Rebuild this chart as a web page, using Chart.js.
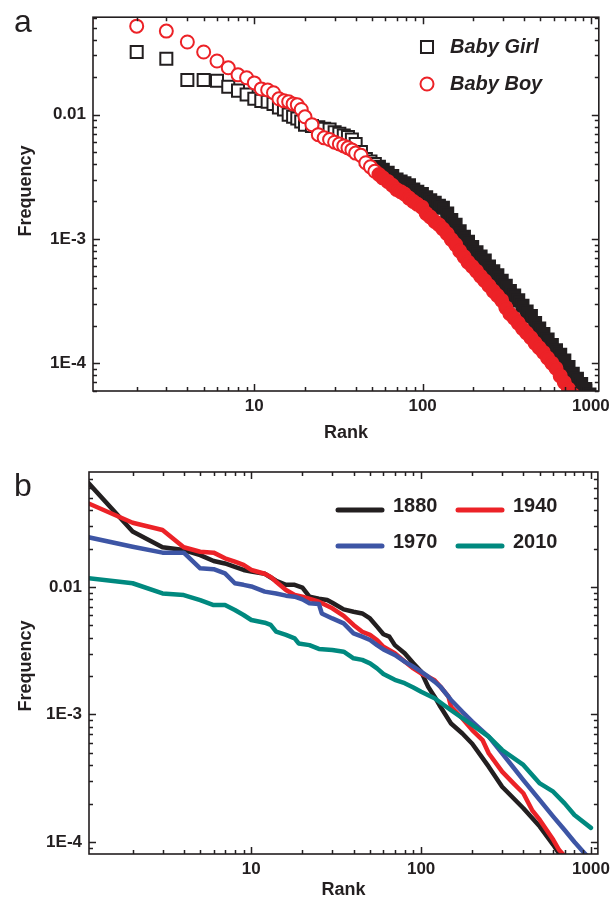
<!DOCTYPE html>
<html>
<head>
<meta charset="utf-8">
<script src="https://cdn.jsdelivr.net/npm/chart.js@4.4.1/dist/chart.umd.min.js"></script>
<style>
  html, body { margin: 0; padding: 0; background: #fff; overflow: hidden; }
  body { width: 615px; height: 897px; position: relative; }
  canvas { position: absolute; left: 0; }
  #chartA { top: 0; }
  #chartB { top: 450px; }
</style>
</head>
<body>
<canvas id="chartA" width="615" height="450"></canvas>
<canvas id="chartB" width="615" height="460"></canvas>
<script>
// ---- panel a: baby names, frequency vs rank ----
const rankA = [1, 2, 3, 4, 5, 6, 7, 8, 9, 10, 11, 12, 13, 14, 15, 16, 17, 18, 19, 20,
    22, 24, 26, 28, 30, 32, 34, 36, 38, 40, 43, 46, 49, 52, 55, 58, 62, 66, 70, 74, 78,
    83, 88, 93, 99, 105, 111, 118, 125, 132, 140, 148, 157, 166, 176, 186, 197, 209, 221,
    234, 248, 263, 278, 295, 312, 330, 350, 370, 392, 415, 440, 466, 493, 522, 553, 586,
    620, 657, 695, 736, 780, 826, 875, 926, 980];
const girlFreq = [0.07, 0.0319, 0.0281, 0.019, 0.019, 0.0187, 0.01675, 0.0156, 0.0145, 0.0134,
    0.0129, 0.0127, 0.0122, 0.0114, 0.011, 0.01, 0.0096, 0.0093, 0.0088, 0.0083,
    0.0081, 0.0079, 0.0077, 0.0076, 0.0072, 0.007, 0.0068, 0.0066, 0.0063, 0.0058, 0.005,
    0.0044, 0.0042, 0.004, 0.0038, 0.0036, 0.0034, 0.0032, 0.003, 0.0029, 0.0028,
    0.0027, 0.0025, 0.0024, 0.0023, 0.00216, 0.00205, 0.00195, 0.00185, 0.00178, 0.0016,
    0.00142, 0.0013, 0.00115, 0.00104, 0.00095, 0.00086, 0.00078, 0.00072,
    0.00067, 0.0006, 0.00055, 0.00051, 0.00046, 0.00042, 0.00038, 0.00035, 0.00032, 0.00029,
    0.00026, 0.00024, 0.00021, 0.00019, 0.000172, 0.000155, 0.00014,
    0.000127, 0.000117, 0.000105, 0.000093, 0.000082, 0.000075, 0.000068, 0.000062, 0.000056];
const boyFreq = [0.055, 0.0515, 0.047, 0.0384, 0.0319, 0.027, 0.0238, 0.0209, 0.0198, 0.018,
    0.0161, 0.0158, 0.015, 0.0134, 0.0129, 0.0127, 0.0122, 0.012, 0.011, 0.0096,
    0.0083, 0.0069, 0.0065, 0.0063, 0.006, 0.0058, 0.0056, 0.0054, 0.0052, 0.0049, 0.0047,
    0.0041, 0.0038, 0.0035, 0.0033, 0.0031, 0.0029, 0.0027, 0.0025, 0.0024, 0.0023,
    0.00213, 0.002, 0.0019, 0.0018, 0.0016, 0.0015, 0.00138, 0.0013, 0.0012, 0.0011,
    0.00099, 0.0009, 0.0008, 0.00072, 0.00065, 0.0006, 0.00055, 0.0005,
    0.00046, 0.00042, 0.00038, 0.00035, 0.00032, 0.00028, 0.00025, 0.00023, 0.00021, 0.00019,
    0.000175, 0.00016, 0.000145, 0.000133, 0.000122, 0.00011, 0.0001,
    0.000091, 0.000079, 0.00007, 0.000062, 0.000056, 0.00005, 0.000045, 0.00004, 0.000036];
const seriesA = ['Baby Girl', 'Baby Boy'];

// ---- panel b: four years ----
const rank1880 = [1, 2, 3, 4, 5, 6, 7, 8, 9, 10, 12, 14, 16, 18, 20, 22, 25, 28, 30, 35, 40, 45,
    50, 55, 60, 65, 70, 80, 90, 100, 110, 120, 130, 150, 175, 200, 250, 300, 400, 500, 600, 650, 700];
const freq1880 = [0.075, 0.0272, 0.0205, 0.0195, 0.0178, 0.016, 0.0153, 0.0144, 0.0136, 0.0132,
    0.0127, 0.0112, 0.0104, 0.0104, 0.0099, 0.0084, 0.0081, 0.0079, 0.00753, 0.00668, 0.0064,
    0.0062, 0.00567, 0.00489, 0.00426, 0.00408, 0.0035, 0.00302, 0.00252, 0.00217, 0.00165,
    0.00138, 0.00115, 0.00085, 0.00071, 0.00059, 0.00039, 0.000271, 0.000184, 0.000132,
    0.000095, 0.000081, 0.00007];
const rank1940 = [1, 2, 3, 4, 5, 6, 7, 8, 9, 10, 12, 13, 14, 16, 18, 20, 25, 30, 35, 40, 45, 50,
    55, 60, 70, 80, 90, 100, 110, 120, 130, 145, 150, 175, 200, 230, 250, 300, 350, 400, 450,
    500, 600, 650, 750];
const freq1940 = [0.0478, 0.0319, 0.028, 0.0205, 0.0189, 0.0186, 0.0168, 0.0158, 0.0149, 0.0136,
    0.0127, 0.012, 0.011, 0.00947, 0.00865, 0.0084, 0.00767, 0.0068, 0.00593, 0.00504, 0.00446,
    0.00421, 0.00384, 0.0034, 0.00302, 0.0026, 0.0023, 0.0021, 0.00198, 0.00186, 0.00165,
    0.00138, 0.00115, 0.00093, 0.000755, 0.00063, 0.000497, 0.000356, 0.000288, 0.000241,
    0.000178, 0.000149, 0.000104, 0.0000865, 0.00007];
const rank1970 = [1, 2, 3, 4, 5, 6, 7, 8, 9, 10, 12, 14, 16, 18, 20, 22, 25, 26, 30, 35, 40, 45,
    50, 55, 60, 70, 80, 90, 100, 110, 120, 130, 150, 175, 200, 250, 300, 400, 500, 600, 700,
    800, 900, 1000];
const freq1970 = [0.0252, 0.0207, 0.0186, 0.0186, 0.014, 0.0138, 0.0128, 0.0107, 0.0104, 0.0101,
    0.0092, 0.0089, 0.00855, 0.0084, 0.008, 0.00745, 0.00736, 0.0062, 0.00567, 0.00519, 0.00433,
    0.00408, 0.00384, 0.0035, 0.00324, 0.00293, 0.0026, 0.00237, 0.00217, 0.00198, 0.00181,
    0.00165, 0.0013, 0.00105, 0.00088, 0.00067, 0.000497, 0.000306, 0.000213, 0.000158,
    0.000124, 0.0001, 0.000084, 0.000072];
const rank2010 = [1, 2, 3, 4, 5, 6, 7, 8, 9, 10, 12, 13, 14, 16, 18, 19, 22, 25, 30, 35, 40, 45,
    50, 55, 60, 70, 80, 90, 100, 120, 150, 200, 250, 300, 400, 500, 600, 700, 800, 1000];
const freq2010 = [0.0119, 0.0107, 0.0089, 0.00865, 0.0079, 0.00722, 0.00722, 0.0066, 0.00603,
    0.00551, 0.00525, 0.00504, 0.00446, 0.00421, 0.00396, 0.00361, 0.0035, 0.00327, 0.00321,
    0.00311, 0.00276, 0.00268, 0.00252, 0.0023, 0.00208, 0.00187, 0.00176, 0.00163, 0.00151,
    0.00134, 0.00108, 0.00083, 0.00067, 0.000527, 0.000402, 0.000288, 0.000248, 0.000201,
    0.000163, 0.000129];
const years = ['1880', '1940', '1970', '2010'];

// tick labels
const xTickValues = [10, 100, 1000];
const yTickValues = [1e-4, 1e-3, 1e-2];
const yTickLabels = ['1E-4', '1E-3', '0.01'];

const INK = '#231f20';
const RED = '#ec2227';
const FONT = '"Liberation Sans", Arial, sans-serif';

function pairs(xs, ys) {
    return xs.map(function(x, i) { return {x: x, y: ys[i]}; });
}

// box and inward ticks on all four sides
const frameTicks = {
    id: 'frameTicks',
    afterDatasetsDraw(chart) {
        const ctx = chart.ctx;
        const a = chart.chartArea;
        const x = chart.scales.x, y = chart.scales.y;
        ctx.save();
        ctx.strokeStyle = INK;
        ctx.lineWidth = 1.5;
        ctx.beginPath();
        for (let k = -6; k <= 4; k++) {
            for (let m = 1; m <= 9; m++) {
                const v = m * Math.pow(10, k);
                const len = m === 1 ? 7 : 4;
                if (v > x.min && v < x.max) {
                    const px = Math.round(x.getPixelForValue(v)) + 0.5;
                    ctx.moveTo(px, a.bottom); ctx.lineTo(px, a.bottom - len);
                    ctx.moveTo(px, a.top); ctx.lineTo(px, a.top + len);
                }
                if (v > y.min && v < y.max) {
                    const py = Math.round(y.getPixelForValue(v)) + 0.5;
                    ctx.moveTo(a.left, py); ctx.lineTo(a.left + len, py);
                    ctx.moveTo(a.right, py); ctx.lineTo(a.right - len, py);
                }
            }
        }
        ctx.stroke();
        ctx.lineWidth = 1.6;
        ctx.strokeRect(a.left, a.top, a.right - a.left, a.bottom - a.top);
        ctx.restore();
    }
};

// y title drawn by hand: in the figure it does not sit at the axis centre
function yTitle(ctx, cy) {
    ctx.save();
    ctx.translate(26, cy);
    ctx.rotate(-Math.PI / 2);
    ctx.fillStyle = INK;
    ctx.font = 'bold 18px ' + FONT;
    ctx.textAlign = 'center';
    ctx.textBaseline = 'middle';
    ctx.fillText('Frequency', 0, 0);
    ctx.restore();
}

function logScales(xmin, xmax, ymin, ymax, yWidth, xHeight, titlePadX) {
    return {
        x: {
            type: 'logarithmic', min: xmin, max: xmax,
            grid: {display: false, drawTicks: false}, border: {display: false},
            afterBuildTicks: function(s) { s.ticks = xTickValues.map(function(v) { return {value: v}; }); },
            afterFit: function(s) { s.height = xHeight; },
            ticks: {
                padding: 5, color: INK, maxRotation: 0, autoSkip: false,
                font: {family: FONT, size: 17, weight: 'bold'},
                callback: function(v) { return String(v); }
            },
            title: {display: true, text: 'Rank', color: INK, padding: {top: 0, bottom: titlePadX},
                font: {family: FONT, size: 18, weight: 'bold'}}
        },
        y: {
            type: 'logarithmic', min: ymin, max: ymax,
            grid: {display: false, drawTicks: false}, border: {display: false},
            afterBuildTicks: function(s) { s.ticks = yTickValues.map(function(v) { return {value: v}; }); },
            afterFit: function(s) { s.width = yWidth; },
            ticks: {
                padding: 7, color: INK, autoSkip: false,
                font: {family: FONT, size: 17, weight: 'bold'},
                callback: function(v) { return yTickLabels[yTickValues.indexOf(v)]; }
            }
        }
    };
}

// ---- chart a ----
const legendA = {
    id: 'legendA',
    afterDraw(chart) {
        const ctx = chart.ctx;
        yTitle(ctx, 191);
        ctx.save();
        ctx.fillStyle = INK;
        ctx.font = '32px ' + FONT;
        ctx.textBaseline = 'alphabetic';
        ctx.fillText('a', 14, 32);
        chart.data.datasets.forEach(function(ds, i) {
            const cy = 47 + i * 37;
            ctx.fillStyle = '#fff';
            ctx.strokeStyle = ds.borderColor;
            ctx.lineWidth = ds.borderWidth;
            Chart.helpers.drawPoint(ctx, {pointStyle: ds.pointStyle, radius: ds.pointRadius,
                borderWidth: ds.borderWidth, rotation: 0}, 427, cy);
            ctx.fillStyle = INK;
            ctx.font = 'italic bold 20px ' + FONT;
            ctx.textBaseline = 'middle';
            ctx.fillText(ds.label, 450, cy);
        });
        ctx.restore();
    }
};

function markerFill(colour) {
    return function(c) { return c.raw && c.raw.x >= 55 ? colour : '#fff'; };
}

new Chart(document.getElementById('chartA'), {
    type: 'scatter',
    data: {
        datasets: [
            {label: seriesA[0], data: pairs(rankA, girlFreq), pointStyle: 'rect', pointRadius: 8.5,
                borderColor: INK, borderWidth: 2, pointBackgroundColor: markerFill(INK), order: 2, clip: 0},
            {label: seriesA[1], data: pairs(rankA, boyFreq), pointStyle: 'circle', pointRadius: 6.5,
                borderColor: RED, borderWidth: 2, pointBackgroundColor: markerFill(RED), order: 1, clip: 0}
        ]
    },
    options: {
        responsive: false, animation: false, devicePixelRatio: 1,
        layout: {autoPadding: false, padding: {left: 0, top: 15, right: 11, bottom: 0}},
        plugins: {legend: {display: false}, tooltip: {enabled: false}},
        elements: {point: {hoverRadius: 0}},
        scales: logScales(1.1, 1114, 5.97e-5, 0.0608, 93, 59, 6)
    },
    plugins: [frameTicks, legendA]
});

// ---- chart b ----
const yearColours = [INK, RED, '#3d55a5', '#00897f'];
const legendB = {
    id: 'legendB',
    afterDraw(chart) {
        const ctx = chart.ctx;
        yTitle(ctx, 216);
        ctx.save();
        ctx.fillStyle = INK;
        ctx.font = '32px ' + FONT;
        ctx.textBaseline = 'alphabetic';
        ctx.fillText('b', 14, 46);
        const cols = [338, 458], rows = [60, 96];
        years.forEach(function(label, i) {
            const x0 = cols[i % 2], ly = rows[Math.floor(i / 2)];
            ctx.strokeStyle = yearColours[i];
            ctx.lineWidth = 5;
            ctx.lineCap = 'round';
            ctx.beginPath(); ctx.moveTo(x0, ly); ctx.lineTo(x0 + 44, ly); ctx.stroke();
            ctx.fillStyle = INK;
            ctx.font = 'bold 20px ' + FONT;
            ctx.textBaseline = 'middle';
            ctx.fillText(label, x0 + 55, ly - 4);
        });
        ctx.restore();
    }
};

const bSeries = [[rank1880, freq1880], [rank1940, freq1940], [rank1970, freq1970], [rank2010, freq2010]];
new Chart(document.getElementById('chartB'), {
    type: 'scatter',
    data: {
        datasets: bSeries.map(function(s, i) {
            return {label: years[i], data: pairs(s[0], s[1]), showLine: true, pointRadius: 0,
                borderColor: yearColours[i], borderWidth: 4.5, borderCapStyle: 'round',
                borderJoinStyle: 'round', order: 4 - i, clip: 0};
        })
    },
    options: {
        responsive: false, animation: false, devicePixelRatio: 1,
        layout: {autoPadding: false, padding: {left: 0, top: 22, right: 12, bottom: 0}},
        plugins: {legend: {display: false}, tooltip: {enabled: false}},
        elements: {point: {hoverRadius: 0}},
        scales: logScales(1.107, 1099, 8.05e-5, 0.0798, 89, 56, 9)
    },
    plugins: [frameTicks, legendB]
});
</script>
</body>
</html>
